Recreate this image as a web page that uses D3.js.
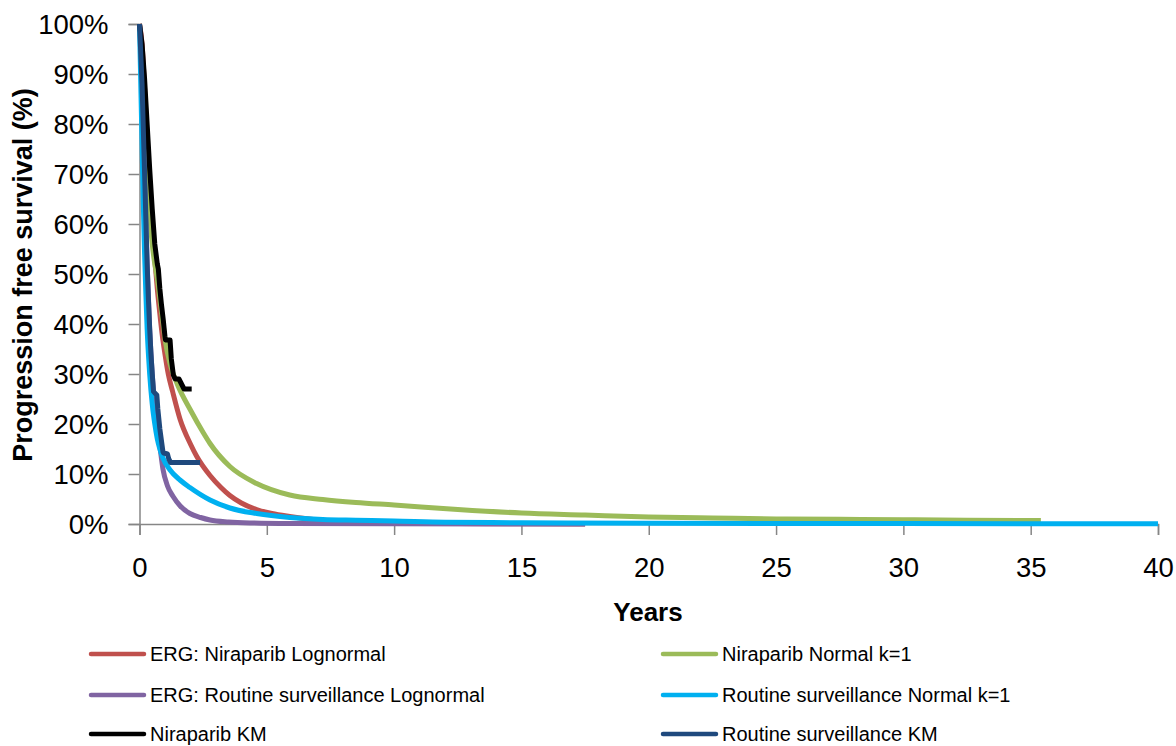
<!DOCTYPE html>
<html>
<head>
<meta charset="utf-8">
<script src="https://cdn.jsdelivr.net/npm/d3@7"></script>
<style>
  html, body { margin: 0; padding: 0; background: #fff; }
  svg { display: block; }
  text { font-family: "Liberation Sans", Arial, sans-serif; fill: #000; }
</style>
</head>
<body>
<svg id="chart" width="1176" height="746"></svg>
<script>
// ---------------- DATA ----------------
const xTicks = [0, 5, 10, 15, 20, 25, 30, 35, 40];
const yTicks = [0, 10, 20, 30, 40, 50, 60, 70, 80, 90, 100];

const seriesNames = [
  "ERG: Niraparib Lognormal",
  "Niraparib Normal k=1",
  "ERG: Routine surveillance Lognormal",
  "Routine surveillance Normal k=1",
  "Niraparib KM",
  "Routine surveillance KM"
];

// ERG: Niraparib Lognormal
const redT = [0, 0.1, 0.2, 0.3, 0.4, 0.5, 0.6, 0.7, 0.8, 0.9, 1.0, 1.13, 1.3, 1.59, 2.0, 2.25, 2.77, 3.2, 3.55, 4.0, 4.6, 5.2, 5.9, 7.2, 8.5, 10, 12.5, 15, 17.5];
const redS = [100, 96, 87, 77, 68, 60, 53, 47, 42, 37.5, 34, 30, 26.5, 21, 16, 13.5, 9.7, 7.3, 5.7, 4.2, 2.9, 2.1, 1.5, 0.7, 0.4, 0.2, 0.1, 0.05, 0.02];

// Niraparib Normal k=1
const greenT = [0, 0.1, 0.2, 0.3, 0.4, 0.5, 0.6, 0.7, 0.8, 0.9, 1.0, 1.2, 1.5, 2.0, 2.5, 2.77, 3.55, 4.6, 5.9, 7.2, 8.5, 10, 12.5, 15, 17.5, 20, 22.5, 25, 27.5, 30, 32.5, 35.4];
const greenS = [100, 92, 80, 70, 62, 56, 52, 49, 45, 41, 37, 32, 27.8, 22.8, 18.3, 16.1, 11.5, 8.1, 5.8, 4.9, 4.3, 3.8, 2.9, 2.2, 1.8, 1.4, 1.2, 1.0, 0.95, 0.85, 0.75, 0.7];

// ERG: Routine surveillance Lognormal
const purpleT = [0, 0.05, 0.1, 0.15, 0.2, 0.3, 0.4, 0.5, 0.6, 0.7, 0.8, 0.92, 1.1, 1.32, 1.6, 1.98, 2.4, 2.77, 3.5, 4.5, 6, 10, 17.5];
const purpleS = [100, 97, 89, 79, 68, 52, 39, 30, 23.5, 19, 15.5, 11, 7.6, 5.5, 3.6, 2.1, 1.3, 0.8, 0.4, 0.2, 0.1, 0.03, 0.0];

// Routine surveillance Normal k=1
const cyanT = [0, 0.05, 0.1, 0.15, 0.2, 0.25, 0.3, 0.35, 0.4, 0.5, 0.6, 0.7, 0.8, 0.92, 1.2, 1.59, 1.98, 2.77, 3.55, 4.6, 5.9, 7.2, 8.5, 10, 12, 15, 20, 30, 40];
const cyanS = [100, 88, 76, 64, 54, 46, 39, 34, 30, 24, 20, 17, 15, 13.2, 10.8, 8.8, 7.3, 4.8, 3.2, 2.1, 1.3, 0.9, 0.75, 0.6, 0.35, 0.25, 0.15, 0.08, 0.05];

// Niraparib KM
const blackT = [0, 0.1, 0.2, 0.3, 0.4, 0.5, 0.6, 0.7, 0.74, 0.8, 0.86, 0.93, 1.0, 1.02, 1.2, 1.25, 1.33, 1.4, 1.55, 1.6, 1.7, 1.75, 2.05];
const blackS = [100, 96, 89, 80, 71, 63, 56, 52, 51, 47, 44, 41, 37.5, 36.8, 36.8, 33, 29.8, 29, 29, 28.5, 27.5, 27, 27];

// Routine surveillance KM
const navyT = [0, 0.1, 0.2, 0.3, 0.35, 0.4, 0.45, 0.5, 0.55, 0.6, 0.68, 0.72, 0.8, 0.92, 0.95, 1.1, 1.15, 1.22, 2.38];
const navyS = [100, 88, 70, 52, 45, 39, 34, 30, 26.5, 26.2, 25.8, 23, 19, 14.5, 14.2, 14, 13, 12.3, 12.3];

const seriesT = [redT, greenT, purpleT, cyanT, blackT, navyT];
const seriesS = [redS, greenS, purpleS, cyanS, blackS, navyS];
const seriesColors = ["#C0504D", "#9BBB59", "#8064A2", "#00B0F0", "#000000", "#1F497D"];

// ---------------- LAYOUT ----------------
const svg = d3.select("#chart");
const plot = { left: 139.5, right: 1158, top: 24, bottom: 524 };

const x = d3.scaleLinear().domain([0, 40]).range([plot.left, plot.right]);
const y = d3.scaleLinear().domain([0, 100]).range([plot.bottom, plot.top]);

svg.append("rect").attr("width", 1176).attr("height", 746).attr("fill", "#fff");

const axisColor = "#868686";

// Y axis
const yAxisG = svg.append("g")
  .attr("transform", `translate(${plot.left},0)`)
  .call(d3.axisLeft(y).tickValues(yTicks).tickSize(11).tickPadding(20)
    .tickFormat(d => d + "%"));
yAxisG.select(".domain").attr("stroke", axisColor).attr("stroke-width", 1.5);
yAxisG.selectAll(".tick line").attr("stroke", axisColor).attr("stroke-width", 1.5);
yAxisG.selectAll(".tick text")
  .attr("font-family", '"Liberation Sans", Arial, sans-serif')
  .attr("font-size", 27.5).attr("fill", "#000").attr("dy", "0.36em");

// X axis
const xAxisG = svg.append("g")
  .attr("transform", `translate(0,${plot.bottom})`)
  .call(d3.axisBottom(x).tickValues(xTicks).tickSize(11).tickFormat(d3.format("d")));
xAxisG.select(".domain").attr("stroke", axisColor).attr("stroke-width", 1.5);
xAxisG.selectAll(".tick line").attr("stroke", axisColor).attr("stroke-width", 1.5);
xAxisG.selectAll(".tick text")
  .attr("font-family", '"Liberation Sans", Arial, sans-serif')
  .attr("font-size", 27.5).attr("fill", "#000").attr("y", 53).attr("dy", 0);

// Axis titles
svg.append("text")
  .attr("x", 648).attr("y", 621)
  .attr("text-anchor", "middle")
  .attr("font-weight", "bold").attr("font-size", 26)
  .text("Years");

svg.append("text")
  .attr("transform", `translate(32,275) rotate(-90)`)
  .attr("text-anchor", "middle")
  .attr("font-weight", "bold").attr("font-size", 27)
  .text("Progression free survival (%)");

// ---------------- LINES ----------------
const line = d3.line()
  .x(d => x(d[0]))
  .y(d => y(d[1]));

const linesG = svg.append("g");
seriesT.forEach((ts, i) => {
  const pts = ts.map((t, j) => [t, seriesS[i][j]]);
  linesG.append("path")
    .datum(pts)
    .attr("fill", "none")
    .attr("stroke", seriesColors[i])
    .attr("stroke-width", 5)
    .attr("stroke-linejoin", "round")
    .attr("stroke-linecap", "butt")
    .attr("d", i >= 4 ? line.curve(d3.curveLinear)(pts) : line.curve(d3.curveMonotoneX)(pts));
});

// ---------------- LEGEND ----------------
const legendCols = [{ sx: 91, tx: 150 }, { sx: 663, tx: 722 }];
const legendRows = [654, 695, 734];
seriesNames.forEach((name, i) => {
  const col = legendCols[i % 2];
  const rowY = legendRows[Math.floor(i / 2)];
  const g = svg.append("g");
  g.append("line")
    .attr("x1", col.sx).attr("x2", col.sx + 53)
    .attr("y1", rowY).attr("y2", rowY)
    .attr("stroke", seriesColors[i]).attr("stroke-width", 4.5)
    .attr("stroke-linecap", "round");
  g.append("text")
    .attr("x", col.tx).attr("y", rowY + 7)
    .attr("font-size", 20)
    .attr("fill", "#1a1a1a")
    .text(name);
});
</script>
</body>
</html>
